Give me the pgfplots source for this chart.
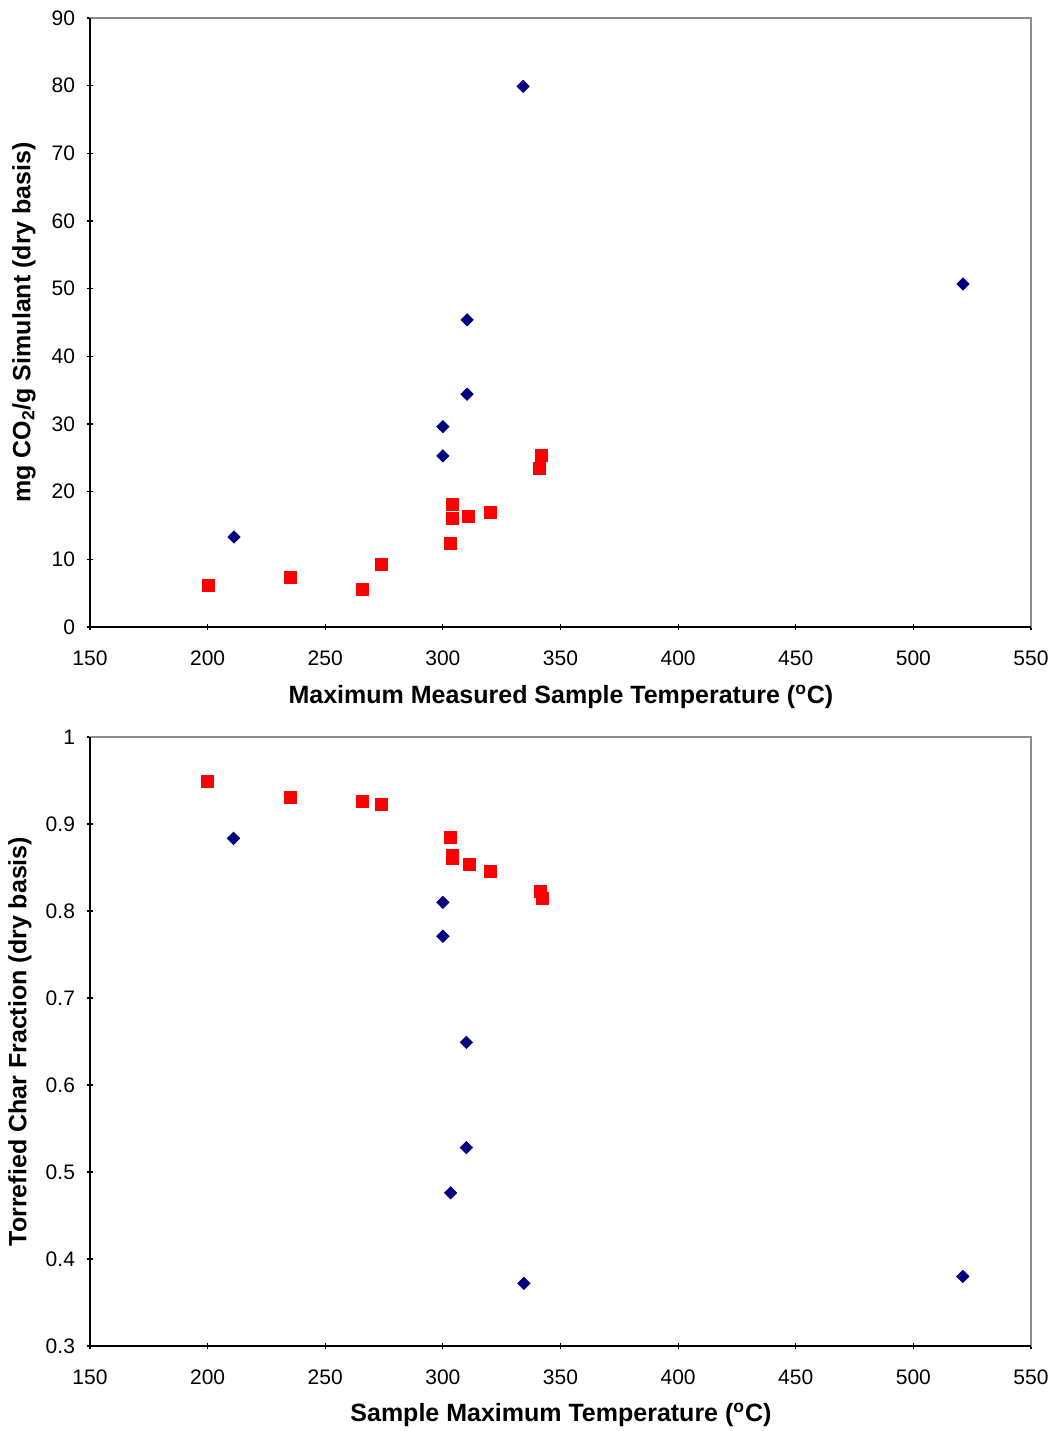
\documentclass[border=0pt]{standalone}
\usepackage{pgfplots}
\pgfplotsset{compat=1.18}
\usepackage{fontspec}
\setmainfont{Liberation Sans}

\definecolor{dkblue}{RGB}{0,0,128}
\definecolor{boxgray}{RGB}{140,140,140}

\pgfplotsset{
  excel/.style={
    scale only axis,
    width=470.5pt, height=304.5pt,
    xmin=150, xmax=550,
    xtick={150,200,...,550},
    axis line style={boxgray, line width=0.9pt},
    tick align=center,
    major tick length=3pt,
    tick style={black, line width=0.6pt},
    xtick pos=left, ytick pos=left,
    ticklabel style={font=\fontsize{10.5}{12}\selectfont},
    xticklabel style={yshift=-7pt},
    yticklabel style={xshift=-2.5pt},
    /pgf/number format/assume math mode=true,
    label style={font=\fontsize{12.5}{14}\selectfont\bfseries},
    xlabel style={at={(axis description cs:0.5005,-0.115)}, anchor=center},
    clip=false,
  },
  blu/.style={only marks, mark=square*, mark size=2.15pt, color=dkblue, mark options={fill=dkblue, rotate=45}},
  rd/.style={only marks, mark=square*, mark size=3pt, color=red, mark options={fill=red}},
}

\begin{document}
\begin{tikzpicture}
\begin{axis}[excel,
  ymin=0, ymax=90, ytick={0,10,...,90},
  xlabel={Maximum Measured Sample Temperature (\textsuperscript{o}C)},
  ylabel={mg CO\textsubscript{2}/g Simulant (dry basis)},
  ylabel style={at={(axis description cs:-0.0701,0.5)}, anchor=center},
]
\draw[black, line width=0.9pt] (rel axis cs:0,1) -- (rel axis cs:0,0) -- (rel axis cs:1,0);
\addplot[blu] coordinates {
(211.2,13.3) (300,25.3) (300,29.6) (310.3,34.4) (310.3,45.4) (334.1,79.9) (521.1,50.7)
};
\addplot[rd] coordinates {
(200.2,6.2) (235,7.4) (266,5.5) (274,9.2) (303,12.3) (304,16.0) (304,18.1)
(311,16.3) (320,16.9) (341,23.5) (342,25.3)
};
\end{axis}

\begin{axis}[excel, yshift=-359.5pt,
  ymin=0.3, ymax=1, ytick={0.3,0.4,...,1.0},
  yticklabel style={/pgf/number format/fixed, /pgf/number format/precision=1},
  xlabel={Sample Maximum Temperature (\textsuperscript{o}C)},
  ylabel={Torrefied Char Fraction (dry basis)},
  ylabel style={at={(axis description cs:-0.0744,0.5)}, anchor=center},
  xlabel style={at={(axis description cs:0.5005,-0.113)}, anchor=center},
]
\draw[black, line width=0.9pt] (rel axis cs:0,1) -- (rel axis cs:0,0) -- (rel axis cs:1,0);
\addplot[blu] coordinates {
(211,0.8835) (300,0.810) (300,0.771) (310,0.649) (310,0.528) (303.3,0.476) (334.4,0.372) (521,0.380)
};
\addplot[rd] coordinates {
(200,0.949) (235,0.931) (266,0.926) (274,0.922) (303,0.885) (304,0.864) (304,0.8606)
(311.2,0.854) (320.3,0.8456) (341.3,0.823) (342.3,0.814)
};
\end{axis}
\pgfresetboundingbox
\path[use as bounding box] (-45pt,-402pt) rectangle (482.5pt,313.5pt);
\end{tikzpicture}
\end{document}
